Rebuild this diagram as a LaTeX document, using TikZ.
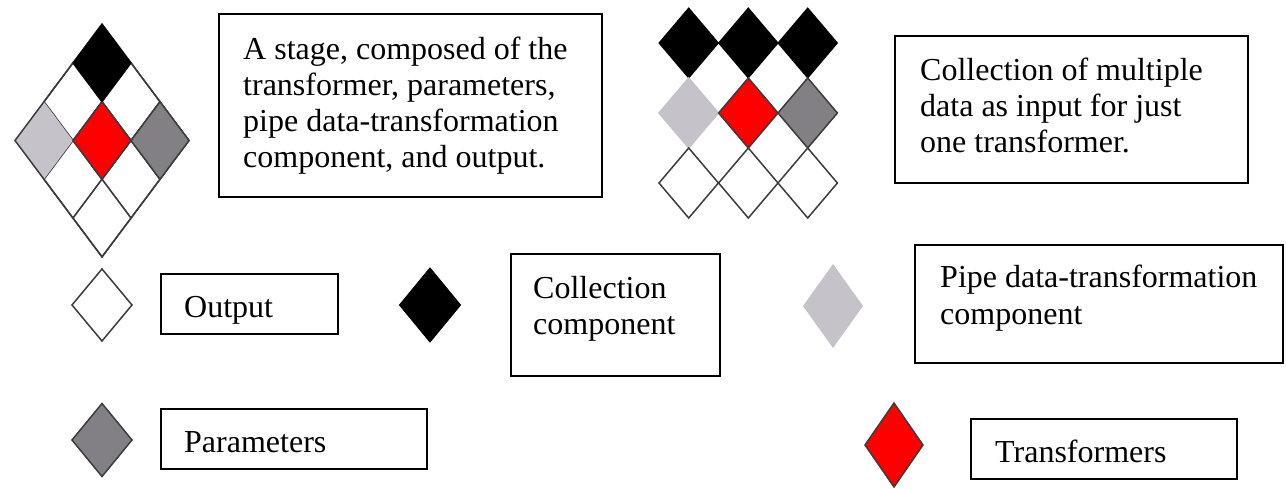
\documentclass[tikz,border=0pt]{standalone}
\usepackage{fontspec}
\setmainfont{Liberation Serif}
\definecolor{lgray}{RGB}{197,195,201}
\definecolor{dgray}{RGB}{130,128,132}
\definecolor{edge}{RGB}{60,60,60}
\definecolor{pred}{RGB}{255,0,0}
\newcommand\dmd[5]{\path[#5] ({#1},{#2-#4}) -- ({#1+#3},{#2}) -- ({#1},{#2+#4}) -- ({#1-#3},{#2}) -- cycle;}
\begin{document}
\begin{tikzpicture}[x=1pt,y=-1pt,
  box/.style={draw=black, line width=2pt, inner sep=0pt, fill=white},
  txt/.style={font=\fontsize{32}{36}\selectfont, align=left, inner sep=0pt, anchor=north west},
  wcell/.style={draw=edge, line width=1.5pt, fill=white},
  lcell/.style={fill=lgray, draw=lgray, line width=1.5pt},
  dcell/.style={fill=dgray, draw=edge, line width=1.5pt},
  rcell/.style={fill=pred, draw=edge, line width=1.5pt},
  bcell/.style={fill=black, draw=black, line width=1pt},
  outline/.style={draw=edge, line width=1.5pt},
]
\useasboundingbox (0,0) rectangle (1286,489);
% ---- left stage figure ----
\dmd{73}{101.7}{29}{38.8}{wcell}
\dmd{131}{101.7}{29}{38.8}{wcell}
\dmd{73}{179.3}{29}{38.8}{wcell}
\dmd{131}{179.3}{29}{38.8}{wcell}
\dmd{102}{218.1}{29}{38.8}{wcell}
\dmd{44}{140.5}{28}{37.5}{lcell}
\dmd{102}{140.5}{87}{116.4}{outline}
\dmd{102}{140.5}{29}{38.8}{rcell}
\dmd{160}{140.5}{29}{38.8}{dcell}
\dmd{102}{62.9}{29}{38.8}{bcell}
% ---- right collection figure ----
\dmd{688.7}{43}{29.7}{35}{bcell}
\dmd{748.3}{43}{29.7}{35}{bcell}
\dmd{807.7}{43}{29.7}{35}{bcell}
\dmd{688.7}{113}{29.7}{35}{lcell}
\dmd{748.3}{113}{29.7}{35}{rcell}
\dmd{807.7}{113}{29.7}{35}{dcell}
\dmd{688.7}{183}{29.7}{35}{wcell}
\dmd{748.3}{183}{29.7}{35}{wcell}
\dmd{807.7}{183}{29.7}{35}{wcell}
% ---- legend diamonds ----
\dmd{102}{305}{30}{36}{wcell}
\dmd{430}{305}{30.5}{37}{bcell}
\dmd{833}{306}{30}{42}{fill=lgray}
\dmd{102}{440}{30}{36.5}{dcell}
\dmd{894}{445}{29}{42}{rcell}
% ---- boxes ----
\node[box, minimum width=383pt, minimum height=183pt] (b1) at (410.5,105.5) {};
\node[box, minimum width=353pt, minimum height=147pt] (b2) at (1071.5,109.5) {};
\node[box, minimum width=177pt, minimum height=60pt] (b3) at (249.5,304) {};
\node[box, minimum width=209pt, minimum height=122pt] (b4) at (615.5,315) {};
\node[box, minimum width=368pt, minimum height=118pt] (b5) at (1099,304) {};
\node[box, minimum width=266pt, minimum height=60pt] (b6) at (294,439) {};
\node[box, minimum width=266pt, minimum height=60pt] (b7) at (1104,449) {};
% ---- texts ----
\node[txt] (t1) at (243,33.8) {\strut A stage, composed of the\\transformer, parameters,\\pipe data-transformation\\component, and output.};
\node[txt] (t2) at (920,54.8) {\strut Collection of multiple\\data as input for just\\one transformer.};
\node[txt] (t3) at (184,291.8) {\strut Output};
\node[txt] (t4) at (533,272.8) {\strut Collection\\component};
\node[txt, font=\fontsize{32}{37}\selectfont] (t5) at (940,261.8) {\strut Pipe data-transformation\\component};
\node[txt] (t6) at (184,426.8) {\strut Parameters};
\node[txt] (t7) at (995,436.8) {\strut Transformers};
\end{tikzpicture}
\end{document}
